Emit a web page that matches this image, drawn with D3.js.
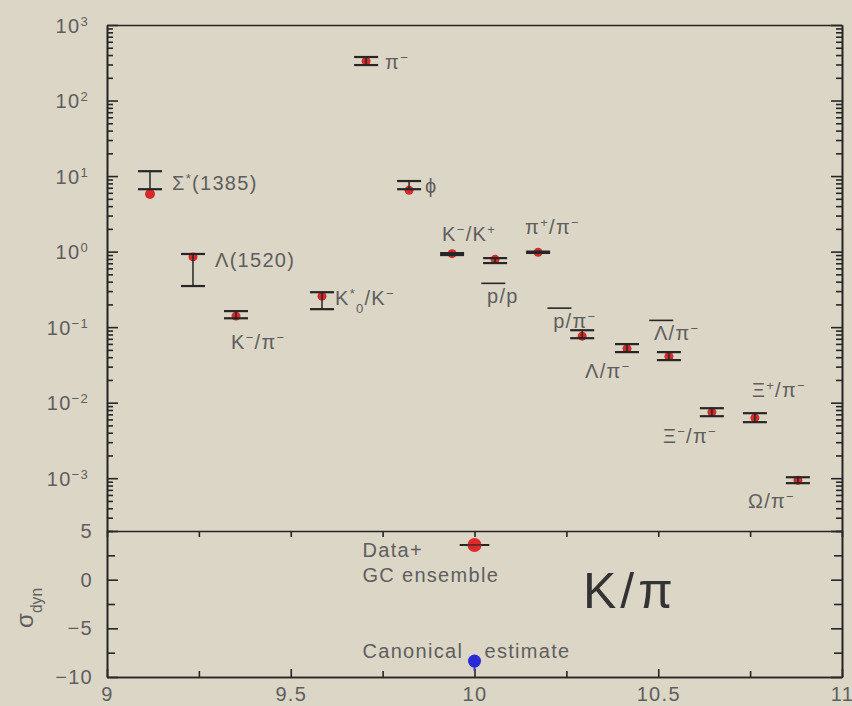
<!DOCTYPE html>
<html>
<head>
<meta charset="utf-8">
<script src="https://cdn.jsdelivr.net/npm/d3@7"></script>
<style>
  body { margin: 0; background: #dcd6c6; }
  text { font-family: "Liberation Sans", Arial, sans-serif; letter-spacing: 1.3px; }
</style>
</head>
<body>
<div id="chart"></div>
<script>
// Data
//////////////////////////////////////////////////////////////////////
// upper panel: particle ratios (markup: ^{} sup, _{} sub, ~{} overline)
const ratioLabels = ["Σ^{*}(1385)", "Λ(1520)", "K^{−}/π^{−}", "K^{*}_{0}/K^{−}", "π^{−}", "ϕ",
  "K^{−}/K^{+}", "~{p}/p", "π^{+}/π^{−}", "~{p}/π^{−}", "Λ/π^{−}", "~{Λ}/π^{−}",
  "Ξ^{−}/π^{−}", "Ξ^{+}/π^{−}", "Ω/π^{−}"];
const ratioX = [9.117, 9.234, 9.351, 9.585, 9.705, 9.822, 9.939, 10.056, 10.173,
  10.293, 10.415, 10.529, 10.646, 10.763, 10.88];
const dataHi = [11.6, 0.93, 0.163, 0.29, 377, 8.6, 0.955, 0.82, 1.0, 0.091, 0.0596,
  0.0467, 0.00845, 0.00726, 0.00103];
const dataLo = [6.7, 0.35, 0.131, 0.173, 295, 6.7, 0.90, 0.705, 0.96, 0.0714, 0.0467,
  0.0366, 0.00662, 0.00552, 0.00086];
const modelVal = [5.8, 0.85, 0.14, 0.257, 333, 6.5, 0.94, 0.79, 0.98, 0.076, 0.052,
  0.041, 0.0075, 0.0063, 0.00094];

// lower panel: sigma_dyn
const sigmaX = [10, 10];
const sigmaY = [3.56, -8.36];
const sigmaErrX = [0.04, 0];
const sigmaErrY = [0, 1.0];

// ticks
const logMajor = [1e-3, 1e-2, 1e-1, 1, 10, 100, 1000];
const sigmaMajor = [5, 0, -5, -10];
const sigmaMinor = [2.5, -2.5, -7.5];
const xMajor = [9, 9.5, 10, 10.5, 11];
const xMinor = [9.25, 9.75, 10.25, 10.75];

// Layout
//////////////////////////////////////////////////////////////////////
const W = 852, H = 706;
const xL = 107, xR = 842, yTop = 25, yMid = 531, yBot = 677;
const textColor = "#5e5e5e";
const lineColor = "#262626";
// label offsets (px) from each model point
const labelOffset = [[22, -4], [22, 10], [-5, 33], [13, 9], [19, 8], [16, 3], [-10, -13],
  [-8, 44], [-13, -18], [-29, -8], [-42, 29], [-15, -16], [-49, 31], [-3, -21], [-50, 28]];

const svg = d3.select("#chart").append("svg")
  .attr("width", W).attr("height", H);
svg.append("rect").attr("width", W).attr("height", H).attr("fill", "#dcd6c6");

const x = d3.scaleLinear().domain([9, 11]).range([xL, xR]);
const y = d3.scaleLog().domain([2e-4, 1000]).range([yMid, yTop]);
const ys = d3.scaleLinear().domain([-10, 5]).range([yBot, yMid]);

// write simple markup into a text element as tspans
function richText(sel, str) {
  const re = /([\^_~])\{([^}]*)\}|([^\^_~]+)/g;
  let m;
  while ((m = re.exec(str))) {
    if (m[3]) { sel.append("tspan").text(m[3]); continue; }
    const t = sel.append("tspan").text(m[2]);
    if (m[1] === "^") t.attr("baseline-shift", "super").attr("font-size", "65%");
    if (m[1] === "_") t.attr("baseline-shift", "sub").attr("font-size", "65%");
    if (m[1] === "~") t.classed("bar", true);
  }
}

function styleAxis(g) {
  g.select(".domain").attr("stroke", lineColor).attr("stroke-width", 1.6);
  g.selectAll(".tick line").attr("stroke", lineColor).attr("stroke-width", 1.6);
  g.selectAll("text").attr("fill", textColor).attr("font-size", 20)
    .attr("font-family", "Liberation Sans, Arial, sans-serif");
}

// Axes
//////////////////////////////////////////////////////////////////////
const minorLog = y.ticks().filter(d => !logMajor.some(v => Math.abs(v - d) / v < 1e-6));

const yAxisL = svg.append("g").attr("transform", `translate(${xL},0)`)
  .call(d3.axisLeft(y).tickValues(logMajor).tickSizeInner(-11).tickSizeOuter(0)
    .tickPadding(18).tickFormat(""))
  .call(styleAxis);
yAxisL.selectAll(".tick text").each(function (d) {
  const e = Math.round(Math.log10(d));
  richText(d3.select(this).attr("dy", "0.36em"), "10^{" + String(e).replace("-", "−") + "}");
});
svg.append("g").attr("transform", `translate(${xL},0)`)
  .call(d3.axisLeft(y).tickValues(minorLog).tickSizeInner(-6).tickSizeOuter(0).tickFormat(""))
  .call(styleAxis);
svg.append("g").attr("transform", `translate(${xR},0)`)
  .call(d3.axisRight(y).tickValues(logMajor).tickSizeInner(-11).tickSizeOuter(0).tickFormat(""))
  .call(styleAxis);
svg.append("g").attr("transform", `translate(${xR},0)`)
  .call(d3.axisRight(y).tickValues(minorLog).tickSizeInner(-6).tickSizeOuter(0).tickFormat(""))
  .call(styleAxis);

// top border
svg.append("g").attr("transform", `translate(0,${yTop})`)
  .call(d3.axisTop(x).tickValues([]).tickSizeOuter(0))
  .call(styleAxis);

// separator with ticks hanging into the lower panel
svg.append("g").attr("transform", `translate(0,${yMid})`)
  .call(d3.axisTop(x).tickValues(xMajor.concat(xMinor)).tickSizeInner(-6).tickSizeOuter(0).tickFormat(""))
  .call(styleAxis);

// lower panel y axes
svg.append("g").attr("transform", `translate(${xL},0)`)
  .call(d3.axisLeft(ys).tickValues(sigmaMajor).tickSizeInner(-11).tickSizeOuter(0).tickPadding(14))
  .call(styleAxis);
svg.append("g").attr("transform", `translate(${xL},0)`)
  .call(d3.axisLeft(ys).tickValues(sigmaMinor).tickSizeInner(-8).tickSizeOuter(0).tickFormat(""))
  .call(styleAxis);
svg.append("g").attr("transform", `translate(${xR},0)`)
  .call(d3.axisRight(ys).tickValues(sigmaMajor).tickSizeInner(-11).tickSizeOuter(0).tickFormat(""))
  .call(styleAxis);
svg.append("g").attr("transform", `translate(${xR},0)`)
  .call(d3.axisRight(ys).tickValues(sigmaMinor).tickSizeInner(-8).tickSizeOuter(0).tickFormat(""))
  .call(styleAxis);

// bottom x axis
svg.append("g").attr("transform", `translate(0,${yBot})`)
  .call(d3.axisBottom(x).tickValues(xMajor).tickSizeInner(-8).tickSizeOuter(0).tickPadding(10)
    .tickFormat(d => String(d)))
  .call(styleAxis);
svg.append("g").attr("transform", `translate(0,${yBot})`)
  .call(d3.axisBottom(x).tickValues(xMinor).tickSizeInner(-6).tickSizeOuter(0).tickFormat(""))
  .call(styleAxis);

// Upper panel marks
//////////////////////////////////////////////////////////////////////
const pts = ratioX.map((v, i) => ({ x: v, hi: dataHi[i], lo: dataLo[i], m: modelVal[i], label: ratioLabels[i], off: labelOffset[i] }));

svg.append("g").selectAll("circle").data(pts).join("circle")
  .attr("cx", d => x(d.x)).attr("cy", d => y(d.m))
  .attr("r", (d, i) => i === 0 ? 5 : 4.5)
  .attr("fill", "#d42a2a");

const bars = svg.append("g").attr("stroke", lineColor).selectAll("g").data(pts).join("g");
bars.append("line")
  .attr("x1", d => x(d.x)).attr("x2", d => x(d.x))
  .attr("y1", d => y(d.hi)).attr("y2", d => y(d.lo))
  .attr("stroke-width", 1.5);
bars.selectAll(".cap").data(d => [[d.x, d.hi], [d.x, d.lo]]).join("line")
  .attr("class", "cap")
  .attr("x1", d => x(d[0]) - 12).attr("x2", d => x(d[0]) + 12)
  .attr("y1", d => y(d[1])).attr("y2", d => y(d[1]))
  .attr("stroke-width", 2.2);

const labels = svg.append("g").attr("fill", textColor).attr("font-size", 20)
  .selectAll("text").data(pts).join("text")
  .attr("x", d => x(d.x) + d.off[0])
  .attr("y", d => y(d.m) + d.off[1])
  .each(function (d) { richText(d3.select(this), d.label); });

// overlines for antiparticles
labels.selectAll("tspan.bar").each(function () {
  const p = this.getStartPositionOfChar(0);
  const cx = p.x + this.getComputedTextLength() / 2;
  svg.append("line")
    .attr("x1", cx - 12).attr("x2", cx + 12)
    .attr("y1", p.y - 20).attr("y2", p.y - 20)
    .attr("stroke", lineColor).attr("stroke-width", 1.6);
});

// Lower panel marks
//////////////////////////////////////////////////////////////////////
const sig = sigmaX.map((v, i) => ({ x: v, y: sigmaY[i], ex: sigmaErrX[i], ey: sigmaErrY[i] }));
const sigColor = ["#dd2a2a", "#2a2ad4"];

svg.append("g").selectAll("line").data(sig).join("line")
  .attr("x1", d => x(d.x - d.ex)).attr("x2", d => x(d.x + d.ex))
  .attr("y1", d => ys(d.y)).attr("y2", d => ys(d.y - d.ey))
  .attr("stroke", (d, i) => i === 0 ? lineColor : "#3a3ac0").attr("stroke-width", 2);
svg.append("g").selectAll("circle").data(sig).join("circle")
  .attr("cx", d => x(d.x)).attr("cy", d => ys(d.y))
  .attr("r", (d, i) => i === 0 ? 7 : 6.5)
  .attr("fill", (d, i) => sigColor[i]);
// redraw the horizontal bar over the red point
svg.append("line")
  .attr("x1", x(sig[0].x - sig[0].ex)).attr("x2", x(sig[0].x + sig[0].ex))
  .attr("y1", ys(sig[0].y)).attr("y2", ys(sig[0].y))
  .attr("stroke", lineColor).attr("stroke-width", 1.5).attr("opacity", 0.8);

const notes = svg.append("g").attr("fill", textColor).attr("font-size", 20);
notes.append("text").attr("x", x(sig[0].x) - 112).attr("y", ys(sig[0].y) + 12).text("Data+");
notes.append("text").attr("x", x(sig[0].x) - 112).attr("y", ys(sig[0].y) + 37).text("GC ensemble");
notes.append("text").attr("x", x(sig[1].x) - 112).attr("y", ys(sig[1].y) - 3).text("Canonical");
notes.append("text").attr("x", x(sig[1].x) + 10).attr("y", ys(sig[1].y) - 3).text("estimate");

// big panel title
svg.append("text").attr("x", x(10.295)).attr("y", ys(-2.9))
  .attr("font-size", 50).attr("fill", "#333").style("letter-spacing", "4px").text("K/π");

// y title of lower panel
svg.append("text")
  .attr("transform", `translate(33,${ys(-2.9)}) rotate(-90)`)
  .attr("text-anchor", "middle").attr("fill", textColor).attr("font-size", 24)
  .style("letter-spacing", "0px")
  .call(t => richText(t, "σ_{dyn}"));
</script>
</body>
</html>
